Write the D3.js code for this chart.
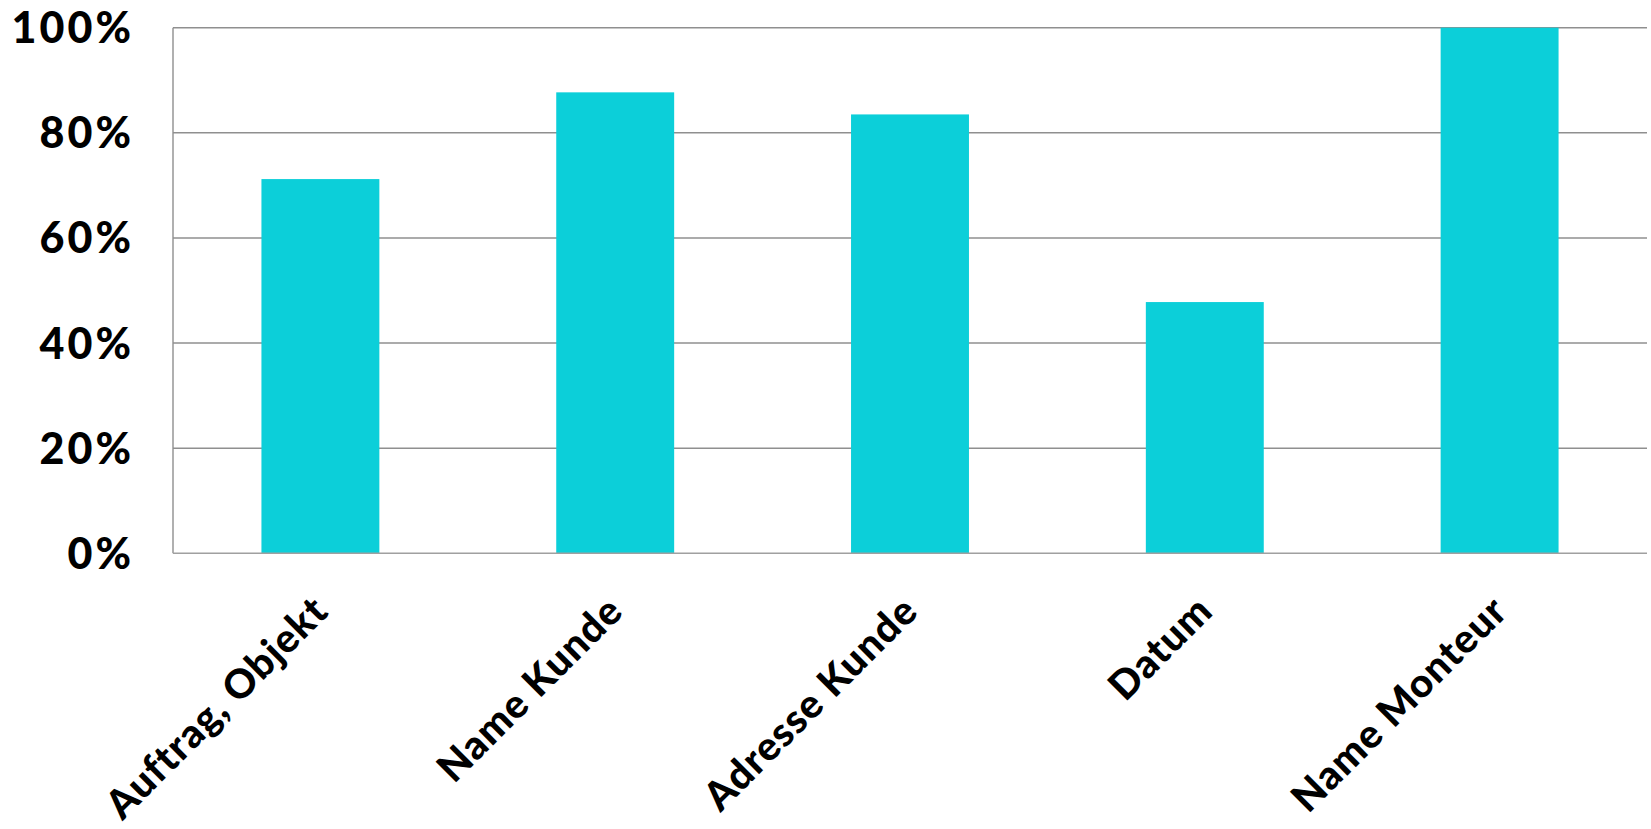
<!DOCTYPE html>
<html>
<head>
<meta charset="utf-8">
<script src="https://cdn.jsdelivr.net/npm/d3@7"></script>
<style>
  html, body { margin: 0; padding: 0; background: #ffffff; }
  svg { display: block; }
  text { font-family: "Lato", "DejaVu Sans", sans-serif; font-weight: 900; fill: #000; }
</style>
</head>
<body>
<svg id="chart" width="1651" height="829"></svg>
<script>
const categories = ["Auftrag, Objekt", "Name Kunde", "Adresse Kunde", "Datum", "Name Monteur"];
const values = [0.712, 0.877, 0.835, 0.478, 1.0];
const yTicks = [0, 0.2, 0.4, 0.6, 0.8, 1.0];

const svg = d3.select("#chart");
const margin = { left: 173, right: 4, top: 27.7, bottom: 275.7 };
const W = 1651, H = 829;

const x = d3.scaleBand().domain(categories).range([margin.left, W - margin.right]).paddingInner(0.6).paddingOuter(0.3);
const y = d3.scaleLinear().domain([0, 1]).range([H - margin.bottom, margin.top]);

// gridlines
svg.append("g")
  .selectAll("line")
  .data(yTicks.filter(d => d > 0))
  .join("line")
  .attr("x1", margin.left).attr("x2", W - margin.right)
  .attr("y1", d => y(d)).attr("y2", d => y(d))
  .attr("stroke", "#8f8f8f").attr("stroke-width", 1.4);

// bars
svg.append("g")
  .selectAll("rect")
  .data(categories)
  .join("rect")
  .attr("x", d => x(d))
  .attr("width", x.bandwidth())
  .attr("y", (d, i) => y(values[i]))
  .attr("height", (d, i) => y(0) - y(values[i]))
  .attr("fill", "#0ccfd9");

// left axis line
svg.append("line")
  .attr("x1", margin.left).attr("x2", margin.left)
  .attr("y1", y(1)).attr("y2", y(0))
  .attr("stroke", "#8f8f8f").attr("stroke-width", 1.4);

// bottom axis line
svg.append("line")
  .attr("x1", margin.left).attr("x2", W - margin.right)
  .attr("y1", y(0)).attr("y2", y(0))
  .attr("stroke", "#a0a0a0").attr("stroke-width", 1.4);

// y tick labels
svg.append("g")
  .selectAll("text")
  .data(yTicks)
  .join("text")
  .attr("x", 134)
  .attr("y", d => y(d))
  .attr("dy", "0.36em")
  .attr("text-anchor", "end")
  .attr("font-size", 43)
  .attr("letter-spacing", 3)
  .text(d => d3.format(".0%")(d));

// x labels rotated
svg.append("g")
  .selectAll("text")
  .data(categories)
  .join("text")
  .attr("text-anchor", "end")
  .attr("font-size", 40)
  .attr("letter-spacing", 1)
  .attr("transform", d => `translate(${x(d) + x.bandwidth() / 2 + 10},${y(0) + 60}) rotate(-45)`)
  .text(d => d);
</script>
</body>
</html>
